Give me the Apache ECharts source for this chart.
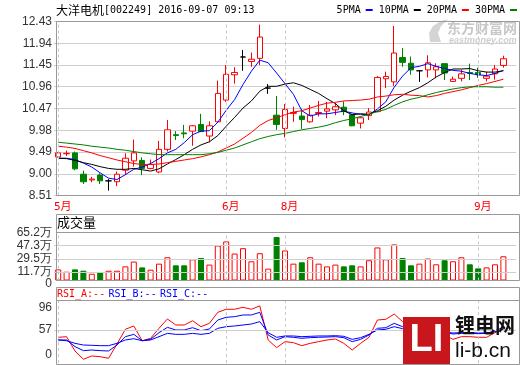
<!DOCTYPE html>
<html><head><meta charset="utf-8">
<script src="https://cdn.jsdelivr.net/npm/echarts@6/dist/echarts.min.js"></script>
<style>html,body{margin:0;padding:0;background:#fff}#c{width:520px;height:365px}</style>
</head><body><div id="c"></div><script>
// ---- data ----
const dates = ['2016-05-04','2016-05-05','2016-05-06','2016-05-09','2016-05-10','2016-05-11','2016-05-12','2016-05-13','2016-05-16','2016-05-17',
'2016-05-18','2016-05-19','2016-05-20','2016-05-23','2016-05-24','2016-05-25','2016-05-26','2016-05-27','2016-05-30','2016-05-31',
'2016-06-01','2016-06-02','2016-06-03','2016-06-06','2016-06-07','2016-06-08','2016-06-13',
'2016-08-01','2016-08-02','2016-08-03','2016-08-04','2016-08-05','2016-08-08','2016-08-09','2016-08-10','2016-08-11','2016-08-12',
'2016-08-15','2016-08-16','2016-08-17','2016-08-18','2016-08-19','2016-08-22','2016-08-23','2016-08-24','2016-08-25','2016-08-26',
'2016-08-29','2016-08-30','2016-08-31','2016-09-01','2016-09-02','2016-09-05','2016-09-06'];
const opens = [9.38,9.45,9.47,8.99,8.86,8.97,8.84,8.82,9.08,9.29, 9.30,9.12,9.04,9.55,9.88,9.92,9.96,10.11,9.85,10.17,
 10.66,11.23,11.63,11.53,11.60,10.93,10.32,10.02,10.36,10.30, 10.17,10.36,10.41,10.44,10.50,10.33,10.14,10.31,10.40,11.14,
 11.07,11.62,11.49,11.32,11.34,11.34,11.48,11.08,11.15,11.28, 11.28,11.15,11.25,11.44];
const closes = [9.47,9.46,9.11,8.82,8.88,8.84,8.84,8.99,9.35,9.47, 9.12,9.21,9.55,9.99,9.86,9.90,10.08,9.95,10.08,10.81,
 11.24,11.28,11.63,11.58,12.08,10.93,10.11,10.45,10.38,10.22, 10.32,10.38,10.46,10.51,10.40,10.08,10.26,10.39,11.17,11.19,
 11.72,11.51,11.34,11.32,11.50,11.41,11.27,11.13,11.25,11.26, 11.23,11.20,11.36,11.59];
const lows = [9.37,9.40,9.08,8.77,8.81,8.77,8.62,8.72,8.97,9.16, 8.97,9.10,9.01,9.50,9.76,9.80,9.63,9.94,9.71,10.15,
 10.62,11.03,11.32,11.41,11.45,10.80,9.99,9.82,10.17,10.01, 10.15,10.29,10.25,10.32,10.32,10.07,10.02,10.21,10.38,10.93,
 10.98,11.41,11.23,11.07,11.17,11.15,11.11,11.08,11.08,11.11, 11.16,11.08,11.12,11.39];
const highs = [9.49,9.52,9.50,9.07,8.93,9.01,8.88,9.05,9.46,9.77, 9.37,9.32,9.74,10.21,9.96,10.10,10.10,10.35,10.18,11.10,
 11.45,11.40,11.79,11.73,12.36,11.02,10.75,10.57,10.51,10.46, 10.55,10.64,10.62,10.60,10.63,10.35,10.29,10.48,11.20,11.30,
 12.33,11.83,11.64,11.33,11.67,11.49,11.49,11.19,11.35,11.48, 11.39,11.30,11.45,11.66];
const ma5 = [9.35,9.35,9.32,9.24,9.15,9.02,8.90,8.87,8.98,9.10, 9.15,9.23,9.34,9.47,9.55,9.70,9.88,9.96,9.97,10.16,
 10.43,10.67,11.01,11.31,11.56,11.50,11.27,11.03,10.79,10.42, 10.30,10.35,10.35,10.38,10.41,10.37,10.34,10.33,10.46,10.62,
 10.95,11.20,11.39,11.42,11.48,11.42,11.37,11.33,11.31,11.26, 11.23,11.21,11.26,11.33];
const ma10 = [9.35,9.34,9.30,9.25,9.21,9.16,9.12,9.10,9.10,9.12, 9.09,9.06,9.11,9.22,9.32,9.43,9.55,9.65,9.72,9.86,
 10.07,10.27,10.48,10.64,10.86,10.97,10.97,11.02,11.05,10.99, 10.90,10.81,10.69,10.58,10.42,10.33,10.35,10.34,10.42,10.52,
 10.66,10.77,10.86,10.94,11.05,11.18,11.28,11.36,11.36,11.37, 11.32,11.29,11.29,11.32];
const ma20 = [9.62,9.60,9.57,9.52,9.47,9.41,9.36,9.31,9.27,9.23, 9.21,9.21,9.22,9.25,9.28,9.31,9.34,9.38,9.43,9.49,
 9.58,9.67,9.80,9.93,10.09,10.20,10.26,10.33,10.39,10.42, 10.48,10.54,10.59,10.61,10.64,10.65,10.66,10.68,10.73,10.75,
 10.78,10.79,10.77,10.76,10.73,10.76,10.81,10.85,10.89,10.94, 10.99,11.03,11.08,11.13];
const ma30 = [9.71,9.69,9.67,9.65,9.62,9.60,9.58,9.55,9.53,9.50, 9.47,9.45,9.43,9.43,9.43,9.43,9.43,9.43,9.45,9.48,
 9.53,9.58,9.65,9.72,9.79,9.84,9.88,9.91,9.95,9.99, 10.02,10.05,10.09,10.15,10.20,10.24,10.29,10.34,10.40,10.45,
 10.54,10.62,10.68,10.72,10.78,10.83,10.87,10.91,10.94,10.96, 10.96,10.96,10.95,10.95];
const volumes = [15.1,11.9,15.1,13.3,9.2,11.0,13.3,13.3,19.2,25.7, 17.8,14.7,22.9,31.6,20.6,20.6,28.8,30.6,21.6,47.6,
 53.1,36.6,43.9,26.1,37.1,16.1,59.0,40.8,22.9,24.7, 31.6,22.9,19.2,21.6,19.2,20.6,19.2,27.5,44.9,28.8,
 49.0,30.6,20.6,22.9,29.8,22.0,27.5,26.1,31.6,22.0, 16.5,17.8,22.0,32.9];
const rsiA = [44.3,45.3,20.7,6.4,12.1,10.9,8.1,32.8,58.1,63.8, 38.4,42.6,59.8,75.9,65.5,65.5,72.9,62.6,68.4,87.4,
 92.6,92.6,96.0,92.6,98.5,39.7,26.4,36.8,35.1,29.9, 33.9,36.8,39.7,41.4,33.9,22.4,33.9,44.3,74.1,75.3,
 84.5,71.3,59.8,56.9,54.0,51.1,48.3,40.8,45.4,45.4, 44.3,44.3,52.3,59.8];
const rsiB = [39.7,39.7,28.2,21.3,22.4,21.3,20.7,31.0,45.4,49.4, 38.4,40.8,52.3,61.5,56.9,56.9,60.9,55.7,58.6,74.1,
 78.8,79.9,82.8,82.8,87.4,48.3,39.7,45.4,44.3,42.6, 43.7,44.3,44.8,45.4,43.7,36.8,40.8,48.3,59.8,60.9,
 68.4,62.6,56.9,55.7,55.2,54.0,52.9,50.0,51.1,51.1, 50.6,51.1,55.7,61.5];
const rsiC = [39.7,38.4,33.9,31.0,30.5,29.9,29.9,33.9,39.7,41.9, 38.4,39.7,45.4,51.1,49.4,49.4,51.1,49.4,51.1,59.8,
 62.6,63.8,65.5,67.2,71.3,52.3,44.3,46.6,46.6,45.4, 46.0,46.6,46.6,47.1,46.0,40.8,43.7,49.4,56.9,58.1,
 62.6,59.2,56.3,55.2,54.6,54.0,53.4,51.7,52.3,52.3, 51.7,51.7,54.0,58.1];
const priceTicks = [8.51,9.00,9.49,9.98,10.47,10.96,11.45,11.94,12.43];
const volumeTicks = [0,11.7,29.5,47.3,65.2];
const rsiTicks = [0,57,96];

// ---- build ----
const cats = dates.concat(['']);
const monthStart = dates.map((d,i)=> i===0 || d.slice(5,7)!==dates[i-1].slice(5,7));
const monthLines = dates.filter((d,i)=>monthStart[i]).map(d=>({xAxis:d}));
const dash = {type:[3,3], color:'#c8c8c8', width:1};
const gridLine = {type:'solid', color:'#cfcfcf', width:1};
const RED='#ff0000', GREEN='#008000', BLUE='#0000ff';
const candleData = dates.map((d,i)=>{
  const o=opens[i], c=closes[i];
  const it = {value:[o,c,lows[i],highs[i]]};
  if (o===c) it.itemStyle = {color:'#000',color0:'#000',borderColor:'#000',borderColor0:'#000'};
  return it;
});
const volData = volumes.map((v,i)=>({value:v, itemStyle: closes[i]>=opens[i]
  ? {color:'#fff', borderColor:RED, borderWidth:1}
  : {color:GREEN, borderColor:GREEN, borderWidth:1}}));
const labelFont = {fontFamily:'Liberation Sans', fontSize:12, color:'#333'};
const mono = 'DejaVu Sans Mono';
const GL = 54, GW = 462;
const volMax = volumeTicks[volumeTicks.length-1];
const mkLine = (arr)=>({symbol:['none','none'], silent:true, animation:false, label:{show:false}, data:arr});
const hiddenX = (gi)=>({type:'category', gridIndex:gi, data:cats, boundaryGap:true,
  axisLine:{show:false}, axisTick:{show:false}, axisLabel:{show:false}, splitLine:{show:false}});

const chart = echarts.init(document.getElementById('c'), null, {renderer:'canvas'});
chart.setOption({
  animation:false,
  backgroundColor:'#fff',
  title:{text:'{c|大洋电机}{m|[002249] 2016-09-07 09:13}', left:56, top:4, padding:0,
    textStyle:{fontWeight:'normal', rich:{c:{fontFamily:'Noto Sans CJK SC', fontSize:12, fontWeight:'normal', color:'#000'},
                     m:{fontFamily:mono, fontSize:10, fontWeight:'normal', color:'#000'}}}},
  legend:{data:['5PMA','10PMA','20PMA','30PMA'], right:3, top:5, padding:0, align:'right',
    icon:'rect', itemWidth:7, itemHeight:2, itemGap:6, selectedMode:false,
    textStyle:{fontFamily:mono, fontSize:10, color:'#000'}},
  grid:[
    {left:GL, width:GW, top:21.5, height:174},
    {left:GL, width:GW, top:232.5, height:48},
    {left:GL, width:GW, top:301, height:62}
  ],
  xAxis:[
    {type:'category', gridIndex:0, data:cats, boundaryGap:true,
     axisLine:{show:false}, axisTick:{show:false}, splitLine:{show:false},
     axisLabel:{interval:(idx)=>monthStart[idx]===true, margin:6, color:RED,
       fontFamily:mono+', Noto Sans CJK SC', fontSize:11, padding:[0,0,0,9],
       formatter:(v)=> v ? parseInt(v.slice(5,7),10)+'月' : ''}},
    hiddenX(1), hiddenX(2)
  ],
  yAxis:[
    {type:'value', gridIndex:0, min:priceTicks[0], max:priceTicks[priceTicks.length-1],
     interval:priceTicks[1]-priceTicks[0], axisLine:{show:false}, axisTick:{show:false},
     splitLine:{show:true, lineStyle:gridLine},
     axisLabel:Object.assign({margin:2, showMinLabel:true, showMaxLabel:true,
       formatter:(v)=>v.toFixed(2)}, labelFont)},
    {type:'value', gridIndex:1, min:0, max:volMax,
     name:String(volumeTicks[0]), nameLocation:'start', nameGap:0,
     nameTextStyle:Object.assign({align:'right', verticalAlign:'middle', padding:[0,2,0,0]}, labelFont),
     axisLine:{show:false}, axisTick:{show:false}, splitLine:{show:false},
     axisLabel:Object.assign({margin:2, customValues:volumeTicks.slice(1), showMinLabel:true, showMaxLabel:true,
       formatter:(v)=> v+'万'}, labelFont)},
    {type:'value', gridIndex:2, min:0, max:106.9,
     axisLine:{show:false}, axisTick:{show:false}, splitLine:{show:false},
     axisLabel:Object.assign({margin:2, customValues:rsiTicks, showMinLabel:true,
       formatter:(v)=> v===0 ? '{z|0}' : String(v),
       rich:{z:{fontFamily:'Liberation Sans', fontSize:12, color:'#333', padding:[0,0,16,0]}}}, labelFont)}
  ],
  series:[
    {type:'candlestick', name:'K', xAxisIndex:0, yAxisIndex:0, data:candleData, barWidth:6,
     itemStyle:{color:'#fff', color0:GREEN, borderColor:RED, borderColor0:GREEN, borderWidth:1},
     markLine:mkLine(monthLines.map(m=>Object.assign({lineStyle:dash}, m)))},
    {type:'line', name:'5PMA', xAxisIndex:0, yAxisIndex:0, data:ma5, symbol:'none', color:BLUE, lineStyle:{width:1, color:BLUE}},
    {type:'line', name:'10PMA', xAxisIndex:0, yAxisIndex:0, data:ma10, symbol:'none', color:'#000', lineStyle:{width:1, color:'#000'}},
    {type:'line', name:'20PMA', xAxisIndex:0, yAxisIndex:0, data:ma20, symbol:'none', color:RED, lineStyle:{width:1, color:RED}},
    {type:'line', name:'30PMA', xAxisIndex:0, yAxisIndex:0, data:ma30, symbol:'none', color:GREEN, lineStyle:{width:1, color:GREEN}},
    {type:'bar', name:'成交量', xAxisIndex:1, yAxisIndex:1, data:volData, barWidth:6,
     markLine:mkLine(volumeTicks.slice(1,-1).map(v=>({yAxis:v, lineStyle:gridLine}))
       .concat(monthLines.map(m=>Object.assign({lineStyle:dash}, m))))},
    {type:'line', name:'RSI_A', xAxisIndex:2, yAxisIndex:2, data:rsiA, symbol:'none', lineStyle:{width:1, color:RED},
     markLine:mkLine(rsiTicks.slice(1,-1).map(v=>({yAxis:v, lineStyle:gridLine}))
       .concat(monthLines.map(m=>Object.assign({lineStyle:dash}, m))))},
    {type:'line', name:'RSI_B', xAxisIndex:2, yAxisIndex:2, data:rsiB, symbol:'none', lineStyle:{width:1, color:BLUE}},
    {type:'line', name:'RSI_C', xAxisIndex:2, yAxisIndex:2, data:rsiC, symbol:'none', lineStyle:{width:1, color:BLUE}}
  ],
  graphic:[
    {type:'rect', z:50, silent:true, shape:{x:56.5,y:21.5,width:463,height:174}, style:{fill:'none', stroke:'#999', lineWidth:1}},
    {type:'rect', z:50, silent:true, shape:{x:56.5,y:214.5,width:463,height:66}, style:{fill:'none', stroke:'#999', lineWidth:1}},
    {type:'line', z:50, silent:true, shape:{x1:56.5,y1:232.5,x2:519.5,y2:232.5}, style:{stroke:'#999', lineWidth:1}},
    {type:'rect', z:50, silent:true, shape:{x:56.5,y:287.5,width:463,height:77}, style:{fill:'none', stroke:'#999', lineWidth:1}},
    {type:'line', z:50, silent:true, shape:{x1:56.5,y1:300.5,x2:519.5,y2:300.5}, style:{stroke:'#999', lineWidth:1}},
    {type:'text', z:51, silent:true, x:57, y:216, style:{text:'成交量', font:'13px "Noto Sans CJK SC"', fill:'#000'}},
    {type:'text', z:51, silent:true, x:57, y:288, style:{
      text:'{r|RSI_A:--} {b|RSI_B:--} {b|RSI_C:--}',
      rich:{r:{fill:RED, font:'10px "DejaVu Sans Mono"'}, b:{fill:BLUE, font:'10px "DejaVu Sans Mono"'}}}},
    {type:'polygon', z:40, silent:true, shape:{points:[[430,42],[429,33],[433,26],[441,21],[448,19],[441,26],[438,33],[441,42]]}, style:{fill:'#d4d4d4'}},
    {type:'text', z:40, silent:true, x:447, y:21, style:{text:'东方财富网', font:'bold 14px "Noto Sans CJK SC"', fill:'#c8c8c8'}},
    {type:'text', z:40, silent:true, x:449, y:36, style:{text:'eastmoney.com', font:'italic bold 9px "Liberation Sans"', fill:'#cfcfcf'}},
    {type:'rect', z:60, silent:true, shape:{x:403,y:317,width:47,height:47}, style:{fill:'#c8161d'}},
    {type:'text', z:61, silent:true, x:426.5, y:341, style:{text:'LI', font:'bold 38px "Liberation Sans"', fill:'#fff', align:'center', verticalAlign:'middle'}},
    {type:'text', z:61, silent:true, x:455, y:315, style:{text:'锂电网', font:'bold 20px "Noto Sans CJK SC"', fill:'#111'}},
    {type:'text', z:61, silent:true, x:455, y:341, style:{text:'li-b.cn', font:'21px "Liberation Sans"', fill:'#111'}}
  ]
});
</script></body></html>
